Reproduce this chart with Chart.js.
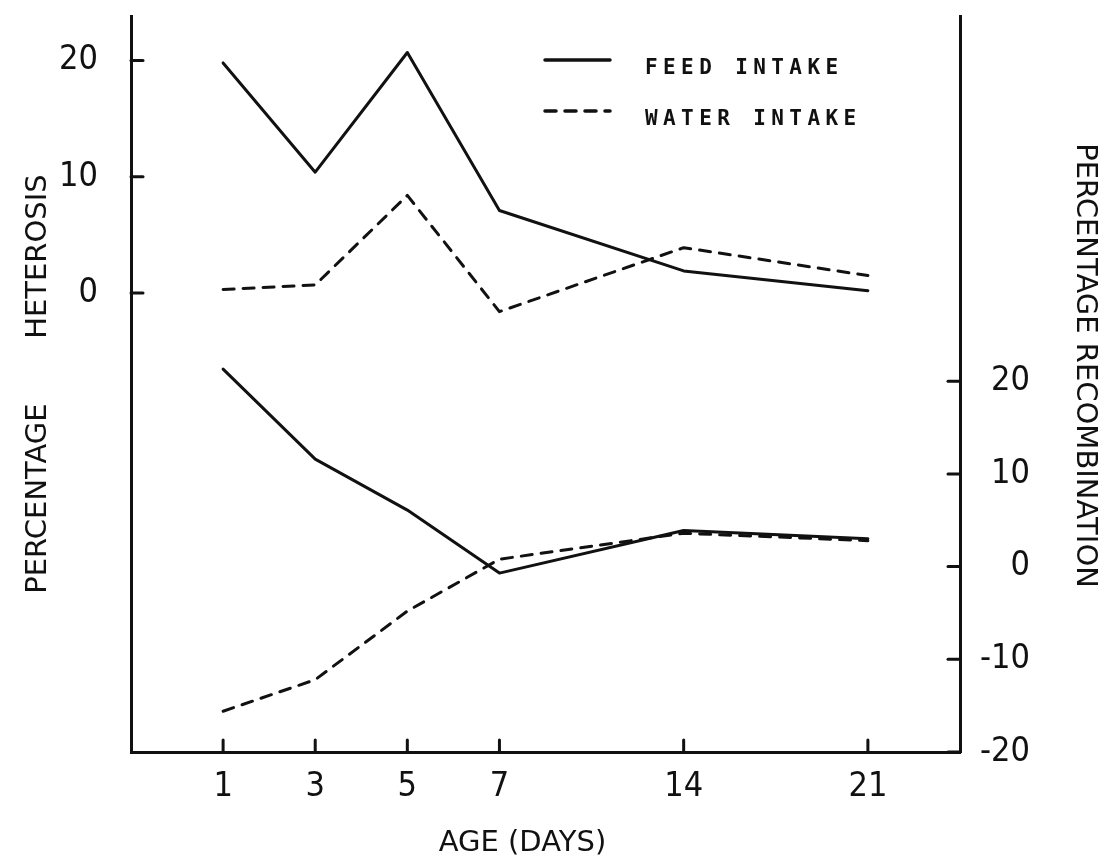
<!DOCTYPE html>
<html>
<head>
<meta charset="utf-8">
<script src="https://cdn.jsdelivr.net/npm/chart.js@4.4.1/dist/chart.umd.min.js"></script>
<style>
    html, body { margin: 0; padding: 0; background: #fff; }
</style>
</head>
<body>
<canvas id="chart" width="1102" height="861"></canvas>
<script>
// Ages (days) and their slot on the broken age axis
const ages = [1, 3, 5, 7, 14, 21];
const ageSlots = [0, 1, 2, 3, 5, 7];

// Percentage heterosis - upper curves, left axis
const heterosisFeed = [19.8, 10.4, 20.7, 7.1, 1.9, 0.2];
const heterosisWater = [0.3, 0.7, 8.4, -1.6, 3.9, 1.5];

// Percentage recombination - lower curves, right axis
const recombFeed = [21.3, 11.6, 6.1, -0.7, 3.9, 3.0];
const recombWater = [-15.6, -12.2, -4.8, 0.8, 3.6, 2.8];

// Tick labels on each axis
const heterosisTicks = [0, 10, 20];
const recombTicks = [-20, -10, 0, 10, 20];

const ink = "#111";
const tickFont = { family: "'Liberation Sans Narrow', 'DejaVu Sans Condensed', sans-serif", size: 34 };
const titleFont = { family: "'DejaVu Sans', sans-serif", size: 29 };

function series(label, values, axis, dashed) {
    return {
        label: label,
        yAxisID: axis,
        data: values.map((v, i) => ({ x: ageSlots[i], y: v })),
        borderColor: ink,
        borderWidth: 3,
        borderDash: dashed ? [11, 9] : [],
        borderCapStyle: "round",
        borderJoinStyle: "round",
        pointRadius: 0,
        tension: 0,
        fill: false
    };
}

// drop the label overhang padding so the plot fills the frame
function noPad(s) {
    s.paddingTop = 0;
    s.paddingBottom = 0;
    s.paddingLeft = 0;
    s.paddingRight = 0;
}

// Short inward tick marks on all three axes
const innerTicks = {
    id: "innerTicks",
    afterDatasetsDraw(chart) {
        const { ctx, chartArea, scales } = chart;
        const len = 12;
        ctx.save();
        ctx.strokeStyle = ink;
        ctx.lineWidth = 3;
        ctx.lineCap = "round";
        const line = (x1, y1, x2, y2) => {
            ctx.beginPath();
            ctx.moveTo(x1, y1);
            ctx.lineTo(x2, y2);
            ctx.stroke();
        };
        scales.x.ticks.forEach(t => {
            const px = scales.x.getPixelForValue(t.value);
            line(px, chartArea.bottom, px, chartArea.bottom - len);
        });
        scales.yL.ticks.forEach(t => {
            const py = scales.yL.getPixelForValue(t.value);
            line(chartArea.left, py, chartArea.left + len, py);
        });
        scales.yR.ticks.forEach(t => {
            const py = scales.yR.getPixelForValue(t.value);
            line(chartArea.right, py, chartArea.right - len, py);
        });
        ctx.restore();
    }
};

// Legend inside the plot, top right
const lineLegend = {
    id: "lineLegend",
    afterDatasetsDraw(chart) {
        const ctx = chart.ctx;
        ctx.save();
        chart.data.datasets.slice(0, 2).forEach((ds, i) => {
            const y = 60 + i * 51;
            ctx.strokeStyle = ink;
            ctx.lineWidth = 3.5;
            ctx.lineCap = "round";
            ctx.setLineDash(ds.borderDash);
            ctx.beginPath();
            ctx.moveTo(545, y);
            ctx.lineTo(610, y);
            ctx.stroke();
            ctx.setLineDash([]);
            ctx.fillStyle = ink;
            ctx.font = "bold 21px 'DejaVu Sans Mono', monospace";
            ctx.letterSpacing = "5.4px";
            ctx.textBaseline = "middle";
            ctx.fillText(ds.label, 645, y + 9);
        });
        ctx.restore();
    }
};

new Chart(document.getElementById("chart"), {
    type: "line",
    data: {
        datasets: [
            series("FEED INTAKE", heterosisFeed, "yL", false),
            series("WATER INTAKE", heterosisWater, "yL", true),
            series("FEED INTAKE", recombFeed, "yR", false),
            series("WATER INTAKE", recombWater, "yR", true)
        ]
    },
    options: {
        responsive: false,
        animation: false,
        devicePixelRatio: 1,
        layout: { padding: { top: 16, left: 0, right: 72, bottom: 0 } },
        plugins: {
            legend: { display: false },
            tooltip: { enabled: false }
        },
        scales: {
            x: {
                type: "linear",
                position: "bottom",
                min: -1,
                max: 8,
                afterBuildTicks: s => { s.ticks = ageSlots.map(v => ({ value: v })); },
                afterFit: s => { s.height = 109; noPad(s); },
                grid: { display: false },
                border: { display: true, color: ink, width: 3 },
                ticks: {
                    callback: v => ages[ageSlots.indexOf(v)],
                    font: tickFont,
                    color: ink,
                    padding: 7,
                    maxRotation: 0,
                    autoSkip: false
                },
                title: { display: true, text: "AGE (DAYS)     ", font: titleFont, color: ink, padding: { top: 0, bottom: 0 } }
            },
            yL: {
                position: "left",
                min: -39.5,
                max: 23.84,
                afterBuildTicks: s => { s.ticks = heterosisTicks.map(v => ({ value: v })); },
                afterFit: s => { s.width = 131; noPad(s); },
                grid: { display: false },
                border: { display: true, color: ink, width: 3 },
                ticks: { font: tickFont, color: ink, padding: 25 },
                title: { display: true, text: "PERCENTAGE       HETEROSIS", font: titleFont, color: ink, padding: { top: 21, bottom: 0 } }
            },
            yR: {
                position: "right",
                min: -20,
                max: 59.4,
                afterBuildTicks: s => { s.ticks = recombTicks.map(v => ({ value: v })); },
                afterFit: s => { s.width = 70; noPad(s); },
                grid: { display: false },
                border: { display: true, color: ink, width: 3 },
                ticks: { font: tickFont, color: ink, padding: 14, crossAlign: "far" },
                title: { display: true, text: "PERCENTAGE RECOMBINATION    ", font: titleFont, color: ink, padding: { top: -72, bottom: 0 } }
            }
        }
    },
    plugins: [innerTicks, lineLegend]
});
</script>
</body>
</html>
